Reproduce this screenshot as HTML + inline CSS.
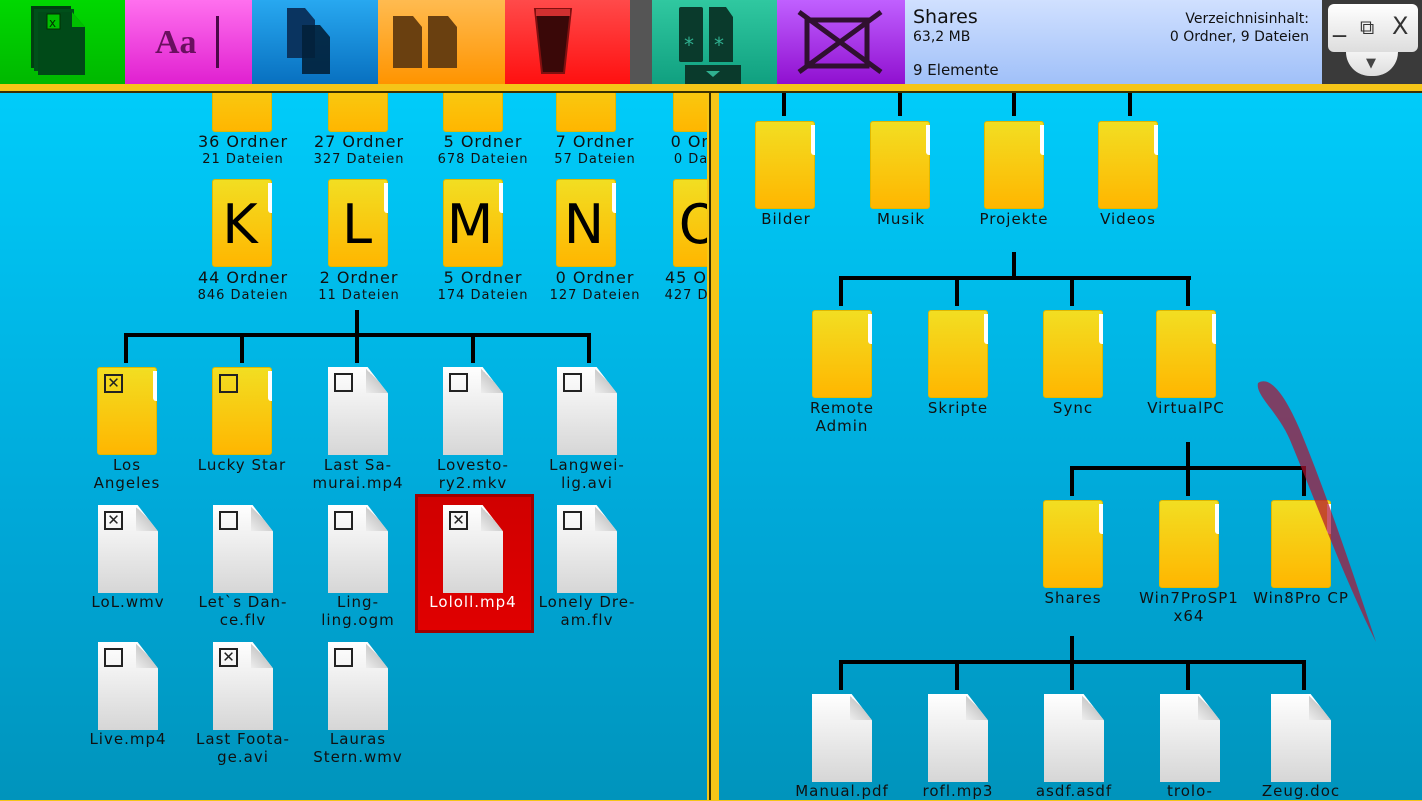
<!DOCTYPE html>
<html><head><meta charset="utf-8"><style>
*{margin:0;padding:0;box-sizing:border-box}
body{width:1422px;height:800px;overflow:hidden;position:relative;font-family:"DejaVu Sans","Liberation Sans",sans-serif;background:#f5c518}
.pane{position:absolute;left:0;top:92px;width:1422px;height:708px;background:linear-gradient(#00ccfa,#00a8d8 60%,#0094bc)}
.a{position:absolute}
.f{position:absolute;width:60px;height:88px;background:linear-gradient(#f2de22,#ffb600);border-radius:3px;border:1px solid #e0b800}
.f::after{content:"";position:absolute;right:-1px;top:3px;width:4px;height:30px;background:#fff;border-radius:0 0 0 3px}
.d{position:absolute;width:60px;height:88px;background:linear-gradient(#fff,#d6d6d6);clip-path:polygon(0 0,66% 0,100% 30%,100% 100%,0 100%)}
.d::after{content:"";position:absolute;left:38px;top:0;width:22px;height:26px;background:linear-gradient(225deg,transparent 50%,#ccc 50%,#eee)}
.c{position:absolute;left:6px;top:6px;width:19px;height:19px;border:2px solid #222;font:bold 15px/15px "DejaVu Sans",sans-serif;text-align:center;color:#222}
.l{position:absolute;width:150px;text-align:center;font-size:15px;line-height:17.5px;letter-spacing:1px;color:#111}
.L{position:absolute;width:60px;text-align:center;font-size:54px;line-height:86px;color:#000}
.o{position:absolute;width:130px;text-align:center;color:#111;letter-spacing:1px}
.h{position:absolute;background:#000}
.tb{position:absolute;top:0;height:84px}
</style></head><body>
<div class="pane"></div>

<!-- LEFT PANE -->
<div class="a" style="left:0;top:0;width:1422px;height:800px;clip-path:inset(92px 715px 0 0)">
<div class="f" style="left:212px;top:44px"></div><div class="L" style="left:212px;top:20px">F</div>
<div class="f" style="left:328px;top:44px"></div><div class="L" style="left:328px;top:20px">G</div>
<div class="f" style="left:443px;top:44px"></div><div class="L" style="left:443px;top:20px">H</div>
<div class="f" style="left:556px;top:44px"></div><div class="L" style="left:556px;top:20px">I</div>
<div class="f" style="left:673px;top:44px"></div><div class="L" style="left:673px;top:20px">J</div>
<div class="o" style="left:178px;top:132px;font-size:16px">36 Ordner</div><div class="o" style="left:178px;top:152px;font-size:13px">21 Dateien</div>
<div class="o" style="left:294px;top:132px;font-size:16px">27 Ordner</div><div class="o" style="left:294px;top:152px;font-size:13px">327 Dateien</div>
<div class="o" style="left:418px;top:132px;font-size:16px">5 Ordner</div><div class="o" style="left:418px;top:152px;font-size:13px">678 Dateien</div>
<div class="o" style="left:530px;top:132px;font-size:16px">7 Ordner</div><div class="o" style="left:530px;top:152px;font-size:13px">57 Dateien</div>
<div class="o" style="left:645px;top:132px;font-size:16px">0 Ordner</div><div class="o" style="left:645px;top:152px;font-size:13px">0 Dateien</div>

<div class="f" style="left:212px;top:179px"></div><div class="L" style="left:210px;top:182px">K</div>
<div class="f" style="left:328px;top:179px"></div><div class="L" style="left:327px;top:182px">L</div>
<div class="f" style="left:443px;top:179px"></div><div class="L" style="left:440px;top:182px">M</div>
<div class="f" style="left:556px;top:179px"></div><div class="L" style="left:554px;top:182px">N</div>
<div class="f" style="left:673px;top:179px"></div><div class="L" style="left:670px;top:182px">O</div>
<div class="o" style="left:178px;top:268px;font-size:16px">44 Ordner</div><div class="o" style="left:178px;top:288px;font-size:13px">846 Dateien</div>
<div class="o" style="left:294px;top:268px;font-size:16px">2 Ordner</div><div class="o" style="left:294px;top:288px;font-size:13px">11 Dateien</div>
<div class="o" style="left:418px;top:268px;font-size:16px">5 Ordner</div><div class="o" style="left:418px;top:288px;font-size:13px">174 Dateien</div>
<div class="o" style="left:530px;top:268px;font-size:16px">0 Ordner</div><div class="o" style="left:530px;top:288px;font-size:13px">127 Dateien</div>
<div class="o" style="left:645px;top:268px;font-size:16px">45 Ordner</div><div class="o" style="left:645px;top:288px;font-size:13px">427 Dateien</div>

<div class="h" style="left:355px;top:310px;width:4px;height:27px"></div>
<div class="h" style="left:124px;top:333px;width:467px;height:4px"></div>
<div class="h" style="left:124px;top:333px;width:4px;height:30px"></div>
<div class="h" style="left:240px;top:333px;width:4px;height:30px"></div>
<div class="h" style="left:355px;top:333px;width:4px;height:30px"></div>
<div class="h" style="left:471px;top:333px;width:4px;height:30px"></div>
<div class="h" style="left:587px;top:333px;width:4px;height:30px"></div>

<div class="a" style="left:415px;top:494px;width:119px;height:139px;background:linear-gradient(#d00000,#e00000);border:3px solid #a00000"></div>

<div class="f" style="left:97px;top:367px"><div class="c">✕</div></div><div class="l" style="left:52px;top:457px">Los<br>Angeles</div>
<div class="f" style="left:212px;top:367px"><div class="c"></div></div><div class="l" style="left:167px;top:457px">Lucky Star</div>
<div class="d" style="left:328px;top:367px"><div class="c"></div></div><div class="l" style="left:283px;top:457px">Last Sa-<br>murai.mp4</div>
<div class="d" style="left:443px;top:367px"><div class="c"></div></div><div class="l" style="left:398px;top:457px">Lovesto-<br>ry2.mkv</div>
<div class="d" style="left:557px;top:367px"><div class="c"></div></div><div class="l" style="left:512px;top:457px">Langwei-<br>lig.avi</div>
<div class="d" style="left:98px;top:505px"><div class="c">✕</div></div><div class="l" style="left:53px;top:594px">LoL.wmv</div>
<div class="d" style="left:213px;top:505px"><div class="c"></div></div><div class="l" style="left:168px;top:594px">Let`s Dan-<br>ce.flv</div>
<div class="d" style="left:328px;top:505px"><div class="c"></div></div><div class="l" style="left:283px;top:594px">Ling-<br>ling.ogm</div>
<div class="d" style="left:443px;top:505px"><div class="c">✕</div></div><div class="l" style="left:398px;top:594px;color:#fff">Lololl.mp4</div>
<div class="d" style="left:557px;top:505px"><div class="c"></div></div><div class="l" style="left:512px;top:594px">Lonely Dre-<br>am.flv</div>
<div class="d" style="left:98px;top:642px"><div class="c"></div></div><div class="l" style="left:53px;top:731px">Live.mp4</div>
<div class="d" style="left:213px;top:642px"><div class="c">✕</div></div><div class="l" style="left:168px;top:731px">Last Foota-<br>ge.avi</div>
<div class="d" style="left:328px;top:642px"><div class="c"></div></div><div class="l" style="left:283px;top:731px">Lauras<br>Stern.wmv</div>
</div>

<div class="a" style="left:707px;top:84px;width:12px;height:716px;background:#f5c518"></div>
<div class="a" style="left:709px;top:92px;width:2px;height:708px;background:#3a3000"></div>

<!-- RIGHT PANE -->
<div class="a" style="left:0;top:0;width:1422px;height:800px;clip-path:inset(92px 0 0 719px)">
<div class="h" style="left:782px;top:92px;width:4px;height:24px"></div>
<div class="h" style="left:898px;top:92px;width:4px;height:24px"></div>
<div class="h" style="left:1012px;top:92px;width:4px;height:24px"></div>
<div class="h" style="left:1128px;top:92px;width:4px;height:24px"></div>
<div class="f" style="left:755px;top:121px"></div><div class="l" style="left:711px;top:211px">Bilder</div>
<div class="f" style="left:870px;top:121px"></div><div class="l" style="left:826px;top:211px">Musik</div>
<div class="f" style="left:984px;top:121px"></div><div class="l" style="left:939px;top:211px">Projekte</div>
<div class="f" style="left:1098px;top:121px"></div><div class="l" style="left:1053px;top:211px">Videos</div>

<div class="h" style="left:1012px;top:252px;width:4px;height:27px"></div>
<div class="h" style="left:839px;top:276px;width:352px;height:4px"></div>
<div class="h" style="left:839px;top:276px;width:4px;height:30px"></div>
<div class="h" style="left:955px;top:276px;width:4px;height:30px"></div>
<div class="h" style="left:1070px;top:276px;width:4px;height:30px"></div>
<div class="h" style="left:1186px;top:276px;width:4px;height:30px"></div>
<div class="f" style="left:812px;top:310px"></div><div class="l" style="left:767px;top:400px">Remote<br>Admin</div>
<div class="f" style="left:928px;top:310px"></div><div class="l" style="left:883px;top:400px">Skripte</div>
<div class="f" style="left:1043px;top:310px"></div><div class="l" style="left:998px;top:400px">Sync</div>
<div class="f" style="left:1156px;top:310px"></div><div class="l" style="left:1111px;top:400px">VirtualPC</div>

<div class="h" style="left:1186px;top:442px;width:4px;height:27px"></div>
<div class="h" style="left:1070px;top:466px;width:236px;height:4px"></div>
<div class="h" style="left:1070px;top:466px;width:4px;height:30px"></div>
<div class="h" style="left:1186px;top:466px;width:4px;height:30px"></div>
<div class="h" style="left:1302px;top:466px;width:4px;height:30px"></div>
<div class="f" style="left:1043px;top:500px"></div><div class="l" style="left:998px;top:590px">Shares</div>
<div class="f" style="left:1159px;top:500px"></div><div class="l" style="left:1114px;top:590px">Win7ProSP1<br>x64</div>
<div class="f" style="left:1271px;top:500px"></div><div class="l" style="left:1226px;top:590px">Win8Pro CP</div>

<div class="h" style="left:1070px;top:636px;width:4px;height:27px"></div>
<div class="h" style="left:839px;top:660px;width:467px;height:4px"></div>
<div class="h" style="left:839px;top:660px;width:4px;height:30px"></div>
<div class="h" style="left:955px;top:660px;width:4px;height:30px"></div>
<div class="h" style="left:1070px;top:660px;width:4px;height:30px"></div>
<div class="h" style="left:1186px;top:660px;width:4px;height:30px"></div>
<div class="h" style="left:1302px;top:660px;width:4px;height:30px"></div>
<div class="d" style="left:812px;top:694px"></div><div class="l" style="left:767px;top:783px">Manual.pdf</div>
<div class="d" style="left:928px;top:694px"></div><div class="l" style="left:883px;top:783px">rofl.mp3</div>
<div class="d" style="left:1044px;top:694px"></div><div class="l" style="left:999px;top:783px">asdf.asdf</div>
<div class="d" style="left:1160px;top:694px"></div><div class="l" style="left:1115px;top:783px">trolo-</div>
<div class="d" style="left:1271px;top:694px"></div><div class="l" style="left:1226px;top:783px">Zeug.doc</div>

<svg class="a" style="left:0;top:0" width="1422" height="800"><path d="M1258 383 C1270 375 1285 395 1300 430 C1325 490 1352 570 1376 642 C1345 580 1315 500 1290 440 C1278 412 1255 395 1258 383Z" fill="#b01030" opacity="0.7"/></svg>
</div>

<!-- TOOLBAR -->
<div class="tb" style="left:0;width:125px;background:linear-gradient(#00d800,#00b800)">
<svg width="125" height="84"><rect x="31" y="6" width="40" height="62" fill="#004010"/><rect x="34" y="9" width="40" height="62" fill="#00501a"/><path d="M38 12h34l13 15v48h-47z" fill="#004a18"/><path d="M72 12l13 15h-13z" fill="#00c000"/><rect x="47" y="14" width="13" height="15" fill="#00c000" stroke="#003000"/><text x="49" y="27" font-size="12" fill="#003000">x</text></svg></div>
<div class="tb" style="left:125px;width:127px;background:linear-gradient(#ff70ee,#e020d0)">
<svg width="127" height="84"><text x="30" y="53" font-family="Liberation Serif" font-weight="bold" font-size="34" fill="#6a1060">Aa</text><rect x="91" y="16" width="3" height="52" fill="#4a0848"/></svg></div>
<div class="tb" style="left:252px;width:126px;background:linear-gradient(#28a8f0,#0870c0)">
<svg width="126" height="84"><path d="M35 8h18l10 12v38h-28z" fill="#0a3460"/><path d="M50 25h18l10 12v37h-28z" fill="#02203a" opacity=".9"/></svg></div>
<div class="tb" style="left:378px;width:127px;background:linear-gradient(#ffbb50,#ff9400)">
<svg width="127" height="84"><path d="M15 16h20l9 11v41h-29z" fill="#6a4010"/><path d="M50 16h20l9 11v41h-29z" fill="#6a4010"/></svg></div>
<div class="tb" style="left:505px;width:125px;background:linear-gradient(#ff4a4a,#ff1010)">
<svg width="125" height="84"><path d="M30 9h36l-7 64h-22z" fill="#3a0808" stroke="#801010" stroke-width="2"/><rect x="31" y="9" width="34" height="7" fill="#d03030"/></svg></div>
<div class="tb" style="left:630px;width:22px;background:#555"></div>
<div class="tb" style="left:652px;width:125px;background:linear-gradient(#30c8a0,#10a080)">
<svg width="125" height="84"><rect x="27" y="7" width="24" height="55" rx="2" fill="#0a3a2c"/><path d="M57 7h17l7 10v45h-24z" fill="#0a3a2c"/><text x="32" y="52" font-size="20" fill="#30b090">*</text><text x="62" y="52" font-size="20" fill="#30b090">*</text><rect x="33" y="65" width="56" height="19" fill="#0a3a2c"/><path d="M54 71h14l-7 6z" fill="#30b090"/></svg></div>
<div class="tb" style="left:777px;width:128px;background:linear-gradient(#c060ff,#9010d0)">
<svg width="128" height="84"><rect x="30" y="20" width="60" height="46" fill="none" stroke="#301030" stroke-width="5"/><path d="M22 12L104 72M104 12L22 72" stroke="#301030" stroke-width="5"/></svg></div>
<div class="tb" style="left:905px;width:417px;background:linear-gradient(#d0e0ff,#a0c0f8)">
<div class="a" style="left:8px;top:6px;font-size:19px;color:#111">Shares</div>
<div class="a" style="left:8px;top:29px;font-size:14px;color:#111">63,2 MB</div>
<div class="a" style="left:8px;top:61px;font-size:15px;color:#111">9 Elemente</div>
<div class="a" style="right:13px;top:10px;font-size:14px;color:#111;text-align:right;line-height:18px">Verzeichnisinhalt:<br>0 Ordner, 9 Dateien</div>
</div>
<div class="tb" style="left:1322px;width:100px;background:#3a3a3a">
<div class="a" style="left:24px;top:40px;width:52px;height:36px;background:linear-gradient(#fff,#ddd);border-radius:0 0 24px 24px"></div>
<div class="a" style="left:6px;top:4px;width:90px;height:48px;background:linear-gradient(#fff,#ddd);border-radius:6px"></div>
<div class="a" style="left:11px;top:8px;font-size:26px;color:#333">_</div>
<div class="a" style="left:38px;top:15px;font-size:20px;color:#333">⧉</div>
<div class="a" style="left:70px;top:12px;font-size:24px;color:#333">X</div>
<div class="a" style="left:44px;top:56px;font-size:13px;color:#444">▼</div>
</div>
<div class="a" style="left:0;top:91px;width:1422px;height:2px;background:#3a3000"></div>
</body></html>
